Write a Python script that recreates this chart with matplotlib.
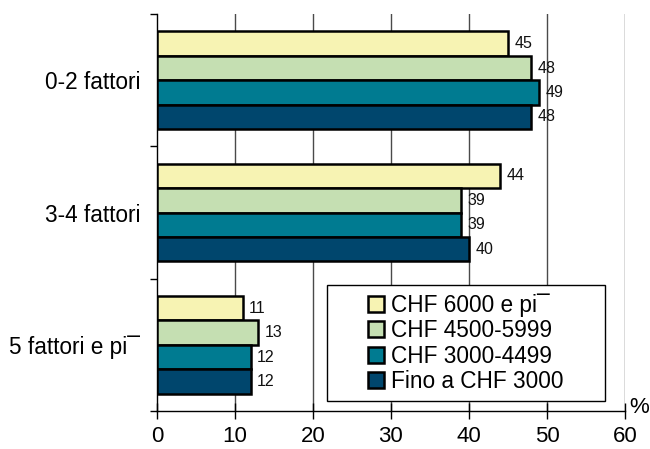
import numpy as np
import matplotlib.pyplot as plt
from matplotlib.patches import Rectangle

plt.rcParams['font.family'] = ['Liberation Sans', 'DejaVu Sans']

categories = ["0-2 fattori", "3-4 fattori", "5 fattori e pi\u00af"]
series_names = ["CHF 6000 e pi\u00af", "CHF 4500-5999", "CHF 3000-4499", "Fino a CHF 3000"]
values = [
    [45, 44, 11],   # CHF 6000 e pi
    [48, 39, 13],   # CHF 4500-5999
    [49, 39, 12],   # CHF 3000-4499
    [48, 40, 12],   # Fino a CHF 3000
]
colors = ["#F7F3B3", "#C5DFB2", "#007B91", "#00466D"]
x_ticks = [0, 10, 20, 30, 40, 50, 60]

fig = plt.figure(figsize=(6.5, 4.49), dpi=100, facecolor='white')
ax = fig.add_axes([0.2415, 0.0846, 0.72, 0.8842])

centers = np.arange(len(categories)) + 0.5
bar_h = 0.184
offsets = (np.arange(len(series_names)) - 1.5) * bar_h

for i, name in enumerate(series_names):
    ys = centers + offsets[i]
    ax.barh(ys, values[i], height=bar_h, color=colors[i], edgecolor='black',
            linewidth=1.8, label=name, zorder=3)
    for y, v in zip(ys, values[i]):
        ax.annotate(str(v), xy=(v, y), xytext=(4.5, 0), textcoords='offset points',
                    ha='left', va='center', fontsize=11.5, color='#111111', zorder=4)

ax.set_xlim(0, 60)
ax.set_ylim(3, 0)

# vertical grid lines, no top/right frame
for xv in x_ticks[1:]:
    ax.axvline(xv, color='#4a4a4a', linewidth=1.0, zorder=1)
ax.spines['top'].set_visible(False)
ax.spines['right'].set_visible(False)
ax.spines['left'].set_linewidth(1.0)
ax.spines['bottom'].set_linewidth(1.0)

ax.set_xticks(x_ticks)
ax.set_xticklabels([str(t) for t in x_ticks], fontsize=16)
ax.tick_params(axis='x', direction='inout', length=12, width=1.0, pad=5)

ax.set_yticks([0, 1, 2, 3])
ax.set_yticklabels([])
ax.tick_params(axis='y', which='major', direction='out', length=5, width=1.0)
ax.set_yticks(centers, minor=True)
ax.set_yticklabels(categories, minor=True, fontsize=16.3)
ax.tick_params(axis='y', which='minor', length=0, pad=12)

ax.text(1.03, -0.005, "%", transform=ax.transAxes, ha='center', va='baseline', fontsize=16)

# legend inside a framed box at lower right
box = (0.363, 0.025, 0.594, 0.292)
ax.add_patch(Rectangle(box[:2], box[2], box[3], transform=ax.transAxes,
                       facecolor='white', edgecolor='black', linewidth=1.0, zorder=5))
leg = ax.legend(loc='center', bbox_to_anchor=box, frameon=False, fontsize=16.3,
                handlelength=0.7, handleheight=0.7, handletextpad=0.3,
                labelspacing=0.1, borderpad=0.2)
leg.set_zorder(6)

fig.savefig("out.png", dpi=100, facecolor='white')
